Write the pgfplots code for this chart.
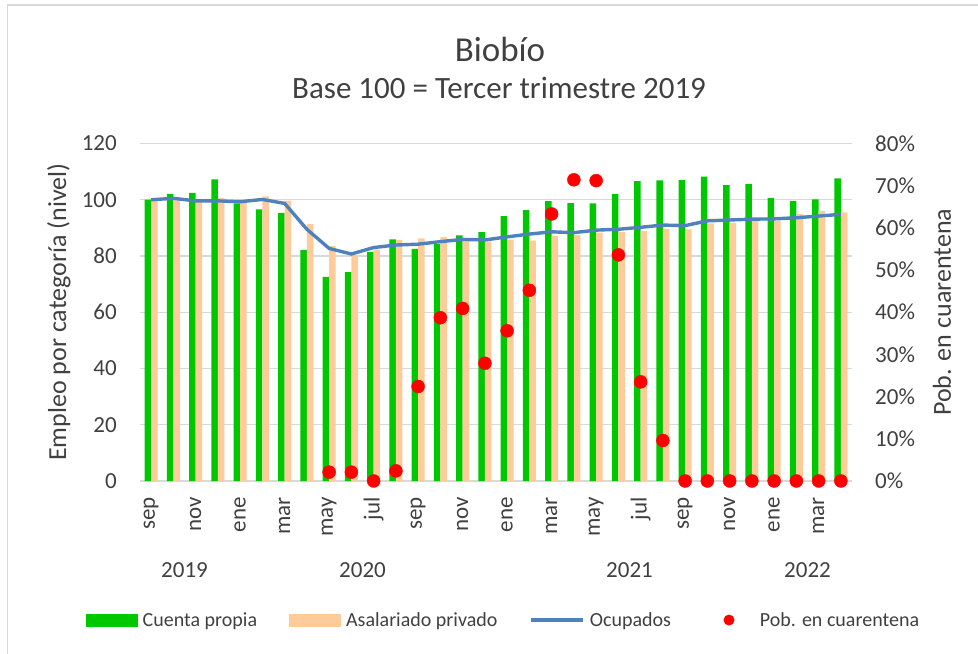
\documentclass[border=0pt]{standalone}
\usepackage{fontspec}
\setmainfont{Carlito}
\usepackage{pgfplots}
\pgfplotsset{compat=1.18}
\definecolor{cgreen}{HTML}{00C800}
\definecolor{corange}{HTML}{FFCC99}
\definecolor{cblue}{HTML}{4F81BD}
\definecolor{cred}{HTML}{FF0000}
\definecolor{gridgray}{HTML}{D9D9D9}
\definecolor{txt}{HTML}{404040}
\newcommand{\fsz}[1]{\fontsize{#1bp}{#1bp}\selectfont}
\begin{document}
\begin{tikzpicture}
\path[use as bounding box] (0,0) rectangle (978bp,654bp);
\draw[gridgray, line width=1.5bp] (7.5bp,0) -- (7.5bp,649bp) -- (978bp,649bp);
\node[anchor=base, font=\fsz{35}, text=txt] at (500bp,592bp) {Biobío};
\node[anchor=base, font=\fsz{31}, text=txt] at (499bp,555bp) {Base 100 = Tercer trimestre 2019};
\begin{axis}[
  at={(140bp,173bp)}, anchor=south west,
  scale only axis, width=712bp, height=337.5bp,
  xmin=-0.5, xmax=31.5, ymin=0, ymax=120,
  ytick={0,20,...,120},
  xtick={0,2,...,30},
  xticklabels={sep,nov,ene,mar,may,jul,sep,nov,ene,mar,may,jul,sep,nov,ene,mar},
  axis line style={draw=none},
  major tick length=0pt,
  ymajorgrids, major grid style={draw=gridgray, line width=1.2bp},
  /pgf/number format/assume math mode=true,
  ticklabel style={font=\fsz{23}, text=txt, inner sep=0pt},
  xticklabel style={rotate=90, anchor=east},
  xticklabel shift=16bp,
  yticklabel style={anchor=east},
  yticklabel shift=23bp,
  ylabel={Empleo por categoría (nivel)},
  every axis y label/.style={at={(axis description cs:-0.1138,0.5)}, rotate=90, anchor=center, font=\fsz{26}, text=txt},
  clip=false,
  legend columns=4,
  legend style={at={(0.509,-0.412)}, anchor=center, draw=none, fill=none,
    font=\fsz{20}, text=txt, inner sep=0pt,
    nodes={inner sep=0pt},
    /tikz/every odd column/.append style={column sep=5bp},
    /tikz/every even column/.append style={column sep=32bp}},
  legend cell align=left,
]
\addplot[ybar, bar width=6.5bp, bar shift=-3.25bp, fill=cgreen, draw=none,
  legend image code/.code={\path[draw=none, fill=cgreen] (0bp,-6.5bp) rectangle (52bp,6.5bp);}]
coordinates {
(0,100.0) (1,102.1) (2,102.4) (3,107.2) (4,98.7) (5,96.6) (6,95.3) (7,82.2)
(8,72.6) (9,74.3) (10,81.5) (11,85.9) (12,82.5) (13,84.2) (14,87.3) (15,88.5)
(16,94.2) (17,96.3) (18,99.5) (19,98.8) (20,98.7) (21,102.0) (22,106.6) (23,106.9)
(24,107.0) (25,108.2) (26,105.2) (27,105.6) (28,100.7) (29,99.6) (30,100.1) (31,107.6)
};
\addlegendentry{Cuenta propia}
\addplot[ybar, bar width=6.5bp, bar shift=3.25bp, fill=corange, draw=none,
  legend image code/.code={\path[draw=none, fill=corange] (0bp,-6.5bp) rectangle (52bp,6.5bp);}]
coordinates {
(0,100.0) (1,100.0) (2,99.6) (3,100.7) (4,99.8) (5,101.2) (6,99.6) (7,91.4)
(8,83.5) (9,80.3) (10,82.3) (11,85.7) (12,86.3) (13,86.7) (14,85.5) (15,85.1)
(16,85.8) (17,85.5) (18,87.1) (19,87.4) (20,88.3) (21,88.6) (22,88.9) (23,89.6)
(24,89.5) (25,91.6) (26,91.8) (27,92.4) (28,92.5) (29,94.9) (30,96.0) (31,95.5)
};
\addlegendentry{Asalariado privado}
\addplot[cblue, line width=3.4bp, mark=none,
  legend image code/.code={\draw[cblue, line width=3.4bp] (0bp,0bp) -- (52bp,0bp);}]
coordinates {
(0,100.0) (1,100.5) (2,99.6) (3,99.6) (4,99.3) (5,100.1) (6,98.7) (7,89.5)
(8,82.7) (9,80.7) (10,83.0) (11,83.9) (12,84.2) (13,85.1) (14,85.9) (15,85.7)
(16,86.8) (17,87.8) (18,88.6) (19,88.3) (20,89.2) (21,89.5) (22,90.2) (23,91.0)
(24,90.8) (25,92.5) (26,92.8) (27,93.1) (28,93.2) (29,93.6) (30,94.2) (31,94.8)
};
\addlegendentry{Ocupados}
\addlegendimage{draw=none, legend image code/.code={\path[draw=none] (0bp,0bp) -- (52bp,0bp); \path[draw=none, fill=cred] (26bp,0bp) circle (5.5bp);}}
\addlegendentry{Pob. en cuarentena}
\node[font=\fsz{23}, text=txt] at (axis cs:1.5,0) [yshift=-89bp] {2019};
\node[font=\fsz{23}, text=txt] at (axis cs:9.5,0) [yshift=-89bp] {2020};
\node[font=\fsz{23}, text=txt] at (axis cs:21.5,0) [yshift=-89bp] {2021};
\node[font=\fsz{23}, text=txt] at (axis cs:29.5,0) [yshift=-89bp] {2022};
\end{axis}
\begin{axis}[
  at={(140bp,173bp)}, anchor=south west,
  scale only axis, width=712bp, height=337.5bp,
  xmin=-0.5, xmax=31.5, ymin=0, ymax=80,
  axis x line=none, axis y line*=right,
  axis line style={draw=none},
  major tick length=0pt,
  ytick={0,10,...,80},
  yticklabel={\pgfmathprintnumber{\tick}\%},
  /pgf/number format/assume math mode=true,
  ticklabel style={font=\fsz{23}, text=txt, inner sep=0pt},
  yticklabel style={anchor=west},
  yticklabel shift=23bp,
  ylabel={Pob. en cuarentena},
  every axis y label/.style={at={(axis description cs:1.1264,0.5)}, rotate=90, anchor=center, font=\fsz{26}, text=txt},
  clip=false,
]
\addplot[only marks, mark=*, mark size=6.5bp, mark options={fill=cred, draw=cred}]
coordinates {
(8,2.1) (9,2.1) (10,0) (11,2.4) (12,22.4) (13,38.7) (14,40.9) (15,27.9)
(16,35.6) (17,45.2) (18,63.3) (19,71.4) (20,71.2) (21,53.6) (22,23.5) (23,9.6)
(24,0) (25,0) (26,0) (27,0) (28,0) (29,0) (30,0) (31,0)
};
\end{axis}
\end{tikzpicture}
\end{document}
